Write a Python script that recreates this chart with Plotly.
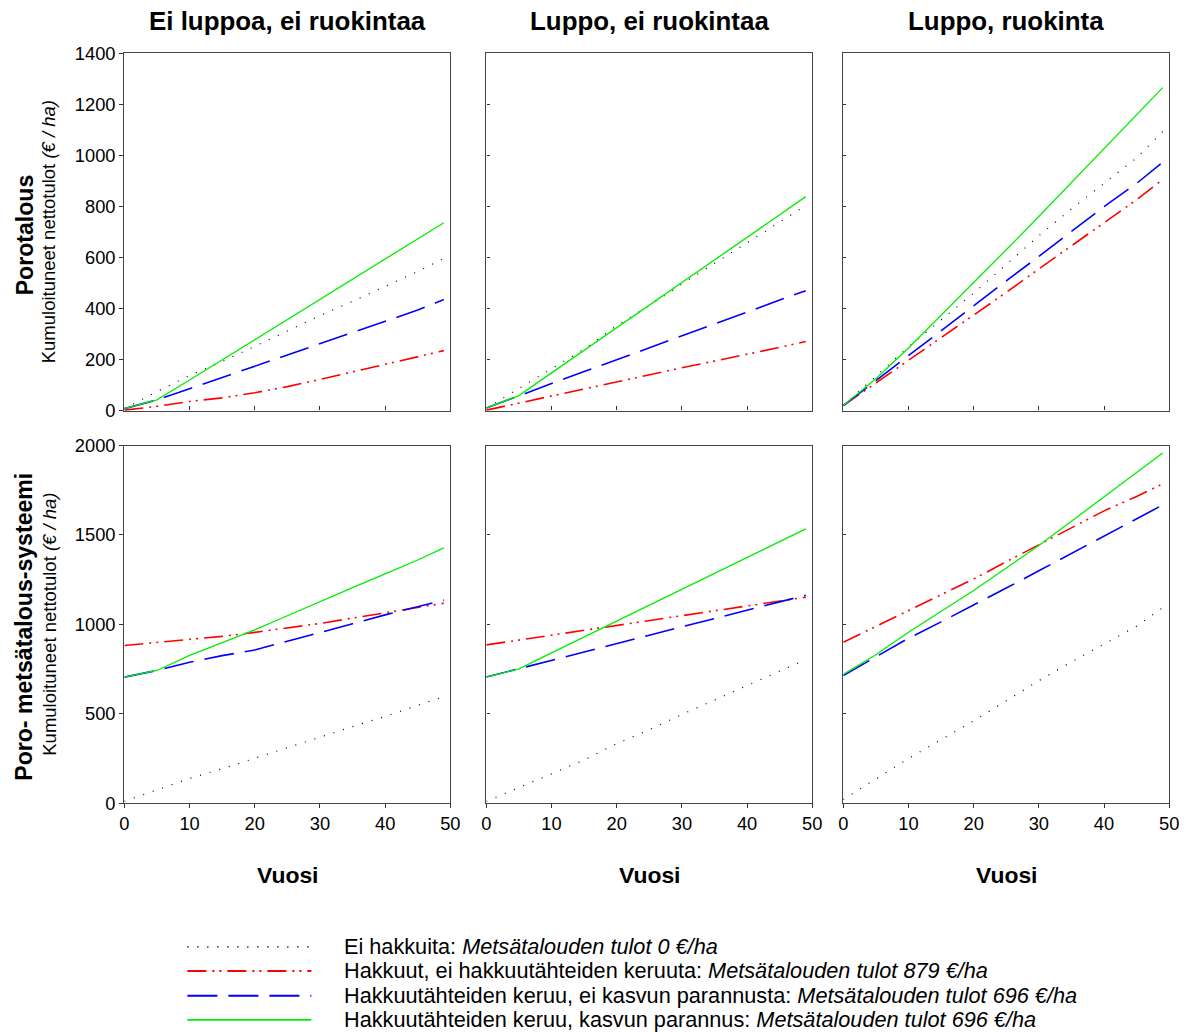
import plotly.graph_objects as go

# ---------------- data ----------------
years = [0, 5, 10, 15, 20, 25, 30, 35, 40, 45, 49]

panel_titles = ["Ei luppoa, ei ruokintaa", "Luppo, ei ruokintaa", "Luppo, ruokinta"]

# Top row: Porotalous (reindeer husbandry)
tl_black = [8, 75, 138, 192, 252, 312, 372, 428, 485, 545, 596]
tl_red   = [2, 17, 36, 50, 70, 94, 122, 152, 183, 210, 235]
tl_blue  = [8, 42, 86, 130, 174, 218, 262, 306, 350, 394, 435]
tl_green = [8, 42, 120, 199, 278, 357, 436, 515, 594, 673, 736]

tm_black = [10, 87, 163, 241, 333, 411, 496, 577, 658, 738, 803]
tm_red   = [2, 30, 58, 86, 114, 142, 168, 194, 220, 248, 271]
tm_blue  = [10, 59, 106, 153, 199, 246, 293, 339, 386, 433, 470]
tm_green = [10, 59, 148, 236, 325, 413, 502, 590, 679, 767, 838]

tr_black = [20, 135, 250, 355, 460, 572, 685, 790, 890, 990, 1093]
tr_red   = [20, 108, 196, 284, 372, 463, 555, 646, 737, 826, 905]
tr_blue  = [20, 118, 215, 313, 411, 508, 604, 702, 799, 890, 973]
tr_green = [20, 125, 245, 372, 500, 630, 760, 893, 1026, 1159, 1265]

# Bottom row: Poro- metsätalous-systeemi
bl_black = [10, 75, 138, 192, 252, 312, 372, 428, 485, 545, 596]
bl_red   = [882, 898, 915, 933, 955, 980, 1005, 1035, 1065, 1093, 1118]
bl_blue  = [705, 742, 788, 825, 857, 905, 952, 1003, 1053, 1100, 1136]
bl_green = [705, 742, 826, 897, 969, 1048, 1128, 1205, 1282, 1360, 1428]

bm_black = [10, 87, 163, 241, 333, 411, 496, 577, 658, 738, 803]
bm_red   = [885, 912, 940, 967, 995, 1022, 1049, 1076, 1103, 1130, 1152]
bm_blue  = [705, 751, 798, 845, 892, 939, 986, 1033, 1080, 1127, 1163]
bm_green = [705, 751, 840, 929, 1018, 1107, 1196, 1285, 1374, 1463, 1534]

br_black = [20, 135, 250, 355, 460, 572, 685, 790, 890, 990, 1093]
br_red   = [900, 988, 1077, 1165, 1254, 1350, 1445, 1540, 1635, 1715, 1786]
br_blue  = [714, 818, 922, 1014, 1107, 1203, 1300, 1398, 1495, 1590, 1668]
br_green = [720, 830, 956, 1072, 1189, 1315, 1441, 1577, 1714, 1850, 1959]

legend_plain = [
    "Ei hakkuita: ",
    "Hakkuut, ei hakkuutähteiden keruuta: ",
    "Hakkuutähteiden keruu, ei kasvun parannusta: ",
    "Hakkuutähteiden keruu, kasvun parannus: ",
]
legend_italic = [
    "Metsätalouden tulot 0 €/ha",
    "Metsätalouden tulot 879 €/ha",
    "Metsätalouden tulot 696 €/ha",
    "Metsätalouden tulot 696 €/ha",
]

x_ticks = [0, 10, 20, 30, 40, 50]
top_yticks = [0, 200, 400, 600, 800, 1000, 1200, 1400]
bot_yticks = [0, 500, 1000, 1500, 2000]

# ---------------- styles ----------------
styles = [
    dict(color="#000000", width=1.2, dash="1px,9px"),
    dict(color="#ff0000", width=1.6, dash="19px,6px,2px,5px,2px,6px"),
    dict(color="#0000ff", width=1.6, dash="30px,11px"),
    dict(color="#00ee00", width=1.3, dash="solid"),
]

W, H = 1186, 1032
FONT = "Arial, Liberation Sans, sans-serif"

# the captured page appears slightly shrunk about its centre; compensate
AX, SX = 4.6, 0.9875
AY, SY = 9.8, 0.981
FS = 1 / 0.984


def px_x(v):
    return ((v - AX) / SX) / W


def px_y(v):
    return 1 - ((v - AY) / SY) / H


def fs(v):
    return round(v * FS, 1)


col_px = [(124, 450), (486, 812), (843, 1169)]
row_px = [(52, 410), (445, 803)]

panels = [
    [tl_black, tl_red, tl_blue, tl_green],
    [tm_black, tm_red, tm_blue, tm_green],
    [tr_black, tr_red, tr_blue, tr_green],
    [bl_black, bl_red, bl_blue, bl_green],
    [bm_black, bm_red, bm_blue, bm_green],
    [br_black, br_red, br_blue, br_green],
]

fig = go.Figure()
layout = dict(
    width=W, height=H,
    margin=dict(l=0, r=0, t=0, b=0),
    paper_bgcolor="white", plot_bgcolor="white",
    showlegend=False,
    font=dict(family=FONT, color="#000000"),
)

for i, series in enumerate(panels):
    r, c = divmod(i, 3)
    n = i + 1
    xa = "x" if n == 1 else f"x{n}"
    ya = "y" if n == 1 else f"y{n}"
    for s, st in zip(series, styles):
        fig.add_trace(go.Scatter(x=years, y=s, mode="lines", line=st,
                                 xaxis=xa, yaxis=ya, hoverinfo="skip"))
    x0, x1 = col_px[c]
    y0, y1 = row_px[r]
    axis_common = dict(showgrid=False, zeroline=False, showline=True, mirror=True,
                       linecolor="#444444", linewidth=1.4, tickcolor="#333333",
                       ticklen=4, tickwidth=1,
                       tickfont=dict(family=FONT, size=fs(18), color="#000000"))
    layout["xaxis" if n == 1 else f"xaxis{n}"] = dict(
        axis_common,
        domain=[px_x(x0), px_x(x1)], range=[0, 50],
        tickmode="array", tickvals=x_ticks,
        ticks="inside" if r == 0 else "outside",
        showticklabels=(r == 1),
        anchor=ya,
    )
    layout["yaxis" if n == 1 else f"yaxis{n}"] = dict(
        axis_common,
        domain=[px_y(y1), px_y(y0)],
        range=[0, 1400] if r == 0 else [0, 2000],
        tickmode="array", tickvals=top_yticks if r == 0 else bot_yticks,
        ticks="outside" if c == 0 else "inside",
        ticklen=4 if c == 0 else 3,
        showticklabels=(c == 0),
        anchor=xa,
    )

annotations = []
# column titles and x titles
for c, t in enumerate(panel_titles):
    cx = (col_px[c][0] + col_px[c][1]) / 2
    annotations.append(dict(text=f"<b>{t}</b>", x=px_x(cx), y=px_y(20), xref="paper", yref="paper",
                            showarrow=False, xanchor="center", yanchor="middle",
                            font=dict(family=FONT, size=fs(25.5), color="#000000")))
    annotations.append(dict(text="<b>Vuosi</b>", x=px_x(cx), y=px_y(875), xref="paper", yref="paper",
                            showarrow=False, xanchor="center", yanchor="middle",
                            font=dict(family=FONT, size=fs(22.5), color="#000000")))

# row labels
row_bold = ["Porotalous", "Poro- metsätalous-systeemi"]
row_bold_centers = [234, 626]
row_sub_centers = [231, 624]
for txt, yb, ys in zip(row_bold, row_bold_centers, row_sub_centers):
    annotations.append(dict(text=f"<b>{txt}</b>", x=px_x(24), y=px_y(yb), xref="paper", yref="paper",
                            showarrow=False, xanchor="center", yanchor="middle", textangle=-90,
                            font=dict(family=FONT, size=fs(22.7), color="#000000")))
    annotations.append(dict(text="Kumuloituneet nettotulot <i>(€ / ha)</i>", x=px_x(49), y=px_y(ys),
                            xref="paper", yref="paper",
                            showarrow=False, xanchor="center", yanchor="middle", textangle=-90,
                            font=dict(family=FONT, size=fs(18.2), color="#000000")))

# legend (custom, drawn below the panels)
shapes = []
legend_rows = [947, 971, 996, 1020]
for yrow, st, p, it in zip(legend_rows, styles, legend_plain, legend_italic):
    shapes.append(dict(type="line", xref="paper", yref="paper",
                       x0=px_x(187), x1=px_x(311), y0=px_y(yrow), y1=px_y(yrow),
                       line=dict(color=st["color"], width=st["width"] + 0.4, dash=st["dash"])))
    annotations.append(dict(text=f"{p}<i>{it}</i>", x=px_x(342), y=px_y(yrow), xref="paper", yref="paper",
                            showarrow=False, xanchor="left", yanchor="middle",
                            font=dict(family=FONT, size=fs(21.4), color="#000000")))

layout["annotations"] = annotations
layout["shapes"] = shapes
fig.update_layout(**layout)
fig.write_html(
    "out.html",
    config={"displayModeBar": False},
    post_script="document.body.style.margin='0';document.body.style.padding='0';"
                "document.documentElement.style.overflow='hidden';",
)
